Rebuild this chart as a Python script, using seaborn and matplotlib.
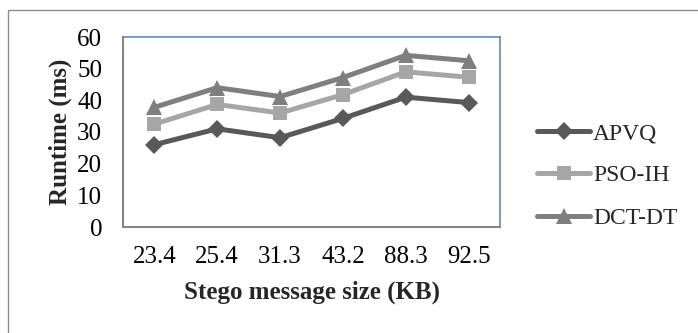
import matplotlib
matplotlib.use("Agg")
import matplotlib.pyplot as plt
import matplotlib.patches as mpatches
import numpy as np
import pandas as pd
import seaborn as sns

# Runtime measurements per stego message size
sizes = ["23.4", "25.4", "31.3", "43.2", "88.3", "92.5"]
apvq = [26, 31, 28.2, 34.3, 41, 39.3]
pso_ih = [32.5, 38.7, 36, 41.8, 49, 47.3]
dct_dt = [37.8, 44, 41.2, 47.2, 54.2, 52.5]

series_names = ["APVQ", "PSO-IH", "DCT-DT"]
series_values = [apvq, pso_ih, dct_dt]

df = pd.DataFrame({
    "size": sizes * len(series_names),
    "runtime": np.concatenate(series_values),
    "method": np.repeat(series_names, len(sizes)),
})

sns.set_theme(style="white")
plt.rcParams["font.family"] = ["Liberation Serif", "DejaVu Serif"]

palette = {"APVQ": "#595959", "PSO-IH": "#a6a6a6", "DCT-DT": "#7f7f7f"}
markers = {"APVQ": "D", "PSO-IH": "s", "DCT-DT": "^"}
msizes = {"APVQ": 9.5, "PSO-IH": 10.5, "DCT-DT": 12}

fig = plt.figure(figsize=(6.98, 3.33), dpi=100)
ax = fig.add_axes([123 / 698, 1 - 227 / 333, 377 / 698, 190 / 333])

for name in series_names:
    sub = df[df["method"] == name]
    sns.lineplot(data=sub, x="size", y="runtime", ax=ax, color=palette[name],
                 marker=markers[name], markersize=msizes[name], linewidth=3.6,
                 markeredgewidth=0, label=name, sort=False)

ax.set_xlim(-0.5, len(sizes) - 0.5)
ax.set_ylim(0, 60)
ax.set_yticks(range(0, 61, 10))
ax.tick_params(axis="both", length=0, labelsize=18, colors="black")
ax.tick_params(axis="x", pad=14)
ax.tick_params(axis="y", pad=15)

for side in ("left", "bottom"):
    ax.spines[side].set_color("#868686")
    ax.spines[side].set_linewidth(1.5)
for side in ("top", "right"):
    ax.spines[side].set_color("#5b8ac6")
    ax.spines[side].set_linewidth(1.2)

ax.set_xlabel("Stego message size (KB)", fontsize=18, fontweight="bold", labelpad=9)
ax.set_ylabel("Runtime (ms)", fontsize=18, fontweight="bold", labelpad=4)

leg = ax.legend(loc="center left", bbox_to_anchor=(414 / 377, 0.27), frameon=False,
                fontsize=17, handlelength=2.25, handletextpad=0.12,
                labelspacing=0.88, borderaxespad=0, borderpad=0)
for h in leg.get_lines():
    h.set_linewidth(3.6)

# outer chart frame
frame = mpatches.Rectangle((8 / 698, -0.1), 1.2, 1 - 10 / 333 + 0.1,
                           transform=fig.transFigure, fill=False,
                           edgecolor="#8c8c8c", linewidth=1.0)
fig.patches.append(frame)

fig.savefig("out.png", dpi=100)
